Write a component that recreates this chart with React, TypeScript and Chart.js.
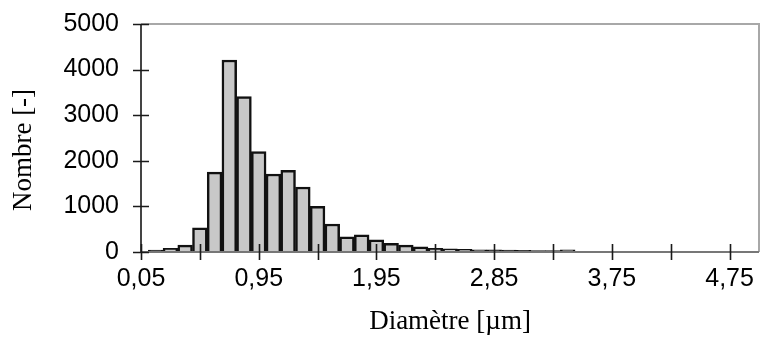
import React, { useEffect, useRef } from "react";
import { Chart, registerables } from "chart.js";

Chart.register(...registerables);

const categories: string[] = [
  "0,05", "0,16", "0,28", "0,39", "0,50", "0,61", "0,73", "0,84", "0,95",
  "1,07", "1,19", "1,32", "1,44", "1,57", "1,69", "1,82", "1,95",
  "2,07", "2,18", "2,29", "2,40", "2,51", "2,63", "2,74", "2,85",
  "2,96", "3,07", "3,19", "3,30", "3,41", "3,52", "3,63", "3,75",
  "3,88", "4,00", "4,13", "4,25", "4,38", "4,50", "4,63", "4,75",
  "4,88", "5,00",
];

const counts: (number | null)[] = [
  null, 40, 80, 150, 530, 1750, 4210, 3410, 2200, 1710, 1790, 1425, 1000,
  615, 335, 375, 265, 190, 150, 115, 80, 70, 60, 50, 45, 40, 35, 30, 30, 50,
  null, null, null, null, null, null, null, null, null, null, null, null, null,
];

const yTicks: number[] = [0, 1000, 2000, 3000, 4000, 5000];
const xTitle = "Diamètre [µm]";
const yTitle = "Nombre [-]";

const LABEL_EVERY = 8;
const TICK_EVERY = 4;
const SERIF = "'Liberation Serif', 'Times New Roman', serif";

const framePlugin = {
  id: "frame",
  afterDatasetsDraw(chart: any) {
    const { ctx, chartArea } = chart;
    const xs = chart.scales.x;
    const ys = chart.scales.y;
    const { left, right, top, bottom } = chartArea;
    ctx.save();
    ctx.strokeStyle = "#a8a8a8";
    ctx.lineWidth = 2;
    ctx.beginPath();
    ctx.moveTo(left, top);
    ctx.lineTo(right, top);
    ctx.lineTo(right, bottom);
    ctx.stroke();
    ctx.strokeStyle = "#777";
    ctx.beginPath();
    ctx.moveTo(left, bottom);
    ctx.lineTo(right, bottom);
    ctx.stroke();
    ctx.strokeStyle = "#444";
    ctx.beginPath();
    ctx.moveTo(left, top);
    ctx.lineTo(left, bottom);
    ctx.stroke();
    ctx.strokeStyle = "#1a1a1a";
    ctx.lineWidth = 1.6;
    ctx.beginPath();
    for (let i = 0; i < categories.length; i += TICK_EVERY) {
      const x = Math.round(xs.getPixelForValue(i)) + 0.5;
      ctx.moveTo(x, bottom - 8);
      ctx.lineTo(x, bottom + 8);
    }
    yTicks.forEach((v) => {
      const y = Math.round(ys.getPixelForValue(v)) + 0.5;
      ctx.moveTo(left - 8, y);
      ctx.lineTo(left + 8, y);
    });
    ctx.stroke();
    // y axis title
    ctx.fillStyle = "#000";
    ctx.font = `27px ${SERIF}`;
    ctx.textAlign = "center";
    ctx.textBaseline = "middle";
    ctx.translate(24, (top + bottom) / 2 + 12);
    ctx.rotate(-Math.PI / 2);
    ctx.fillText(yTitle, 0, 0);
    ctx.restore();
  },
};

export default function App() {
  const ref = useRef<HTMLCanvasElement | null>(null);
  useEffect(() => {
    if (!ref.current) return;
    const chart = new Chart(ref.current, {
      type: "bar",
      data: {
        labels: categories,
        datasets: [
          {
            data: counts,
            backgroundColor: "#c8c8c8",
            borderColor: "#111",
            borderWidth: 2.5,
            categoryPercentage: 1,
            barPercentage: 1,
          },
        ],
      },
      options: {
        responsive: false,
        animation: false,
        layout: { padding: { top: 24, right: 2, left: 0, bottom: 0 } },
        plugins: { legend: { display: false }, tooltip: { enabled: false } },
        scales: {
          x: {
            type: "category",
            offset: false,
            grid: { display: false, drawTicks: false },
            border: { display: false },
            ticks: {
              autoSkip: false,
              maxRotation: 0,
              minRotation: 0,
              padding: 12,
              color: "#000",
              font: { family: "'Liberation Sans', Arial, sans-serif", size: 25 },
              callback: (_v: any, i: number) => (i % LABEL_EVERY === 0 ? categories[i] : ""),
            },
            title: {
              display: true,
              text: xTitle,
              color: "#000",
              font: { family: SERIF, size: 27 },
              padding: { top: 0, bottom: 3 },
            },
            afterFit: (s: any) => {
              s.height = 89;
              s.paddingLeft = 0;
              s.paddingRight = 0;
            },
          },
          y: {
            min: 0,
            max: 5000,
            afterBuildTicks: (s: any) => {
              s.ticks = yTicks.map((v) => ({ value: v }));
            },
            grid: { display: false, drawTicks: false },
            border: { display: false },
            ticks: {
              padding: 22,
              color: "#000",
              font: { family: "'Liberation Sans', Arial, sans-serif", size: 25 },
              callback: (v: any) => String(v),
            },
            title: { display: false, text: yTitle },
            afterFit: (s: any) => {
              s.width = 141;
              s.paddingTop = 0;
              s.paddingBottom = 0;
            },
          },
        },
      },
      plugins: [framePlugin],
    });
    return () => chart.destroy();
  }, []);
  return (
    <div style={{ position: "fixed", left: 0, top: 0, width: 761, height: 341, background: "#fff" }}>
      <canvas ref={ref} width={761} height={341} />
    </div>
  );
}
